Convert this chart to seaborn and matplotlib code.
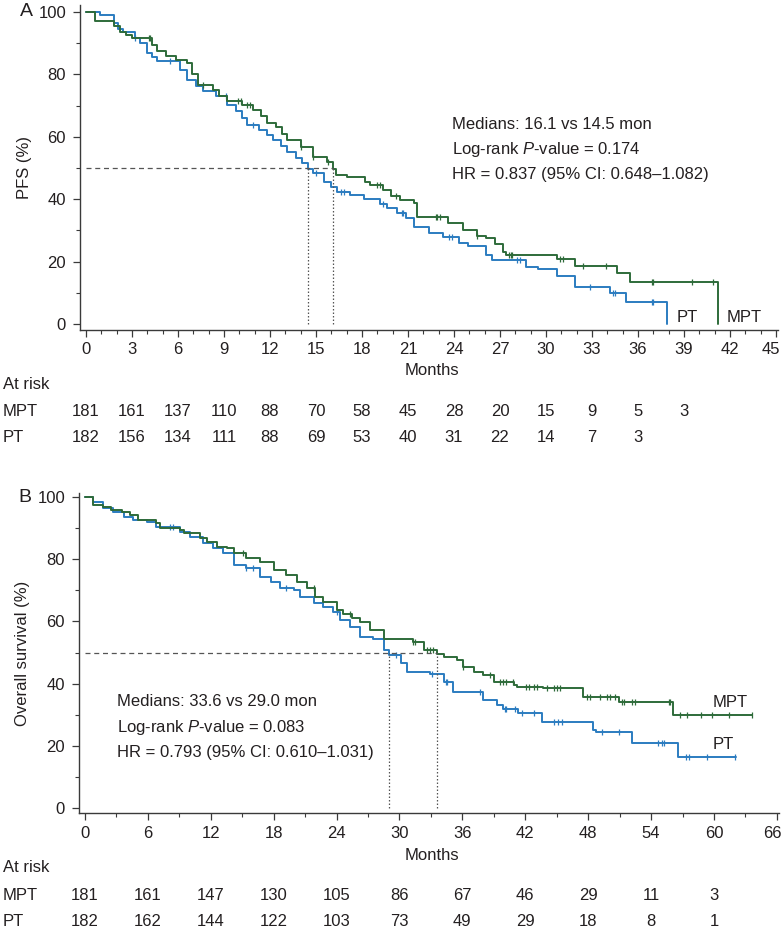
import matplotlib
matplotlib.use("Agg")
import matplotlib.pyplot as plt
import matplotlib.transforms as mtransforms
from matplotlib.ticker import MultipleLocator
import numpy as np
import pandas as pd
import seaborn as sns

sns.set_theme(style="ticks")
plt.rcParams['font.family'] = ['Liberation Sans', 'DejaVu Sans']
plt.rcParams['mathtext.fontset'] = 'custom'
plt.rcParams['mathtext.rm'] = 'Liberation Sans'
plt.rcParams['mathtext.it'] = 'Liberation Sans:italic'

GREEN = '#2e6b3a'
BLUE = '#2b7cc0'
INK = '#231f20'
AXIS = '#3a3a3a'
GUIDE = '#555555'

# -------------------------------------------------------------------
# Panel A: progression-free survival (step times in months, % surviving)
# -------------------------------------------------------------------
pfs_mpt_t = [0, 0.6, 1.8, 2.2, 2.6, 3.0, 4.3, 4.6, 5.2, 5.9, 6.6, 6.9, 7.3, 8.3, 8.7,
             9.2, 10.2, 10.9, 11.4, 11.8, 12.4, 12.8, 13.1, 14.0, 14.8, 15.7, 16.1,
             16.3, 17.0, 18.2, 18.5, 19.4, 19.9, 20.5, 21.4, 21.6, 23.6, 24.6, 25.5,
             26.1, 26.7, 27.2, 27.4, 30.7, 31.9, 34.6, 35.5, 41.2]
pfs_mpt_s = [100, 97.2, 95.5, 93.5, 92.5, 91.6, 89.5, 87.5, 86.0, 84.6, 83.5, 80.0, 76.6,
             75.0, 73.0, 71.3, 70.2, 68.6, 66.5, 64.3, 63.2, 61.0, 59.0, 56.8, 53.6, 52.0,
             49.5, 47.8, 47.0, 45.6, 44.5, 42.9, 41.0, 39.7, 38.7, 34.2, 32.5, 30.1, 28.3,
             27.4, 25.6, 23.2, 22.1, 20.9, 18.7, 16.2, 13.6, 0]
pfs_pt_t = [0, 0.9, 1.8, 2.1, 2.4, 3.2, 3.5, 4.0, 4.3, 4.6, 6.1, 6.6, 7.2, 7.6, 8.5, 9.2,
            9.8, 10.2, 10.5, 11.3, 11.8, 12.2, 12.7, 13.1, 13.7, 14.1, 14.5, 14.8, 15.5,
            16.0, 16.4, 17.2, 18.1, 19.2, 19.6, 20.3, 20.9, 21.4, 22.4, 23.3, 24.3, 24.9,
            26.1, 26.5, 28.7, 29.5, 30.7, 31.9, 34.2, 35.2, 37.9]
pfs_pt_s = [100, 99.0, 96.5, 94.5, 93.7, 91.6, 90.0, 86.8, 85.5, 84.1, 81.4, 78.2, 76.1,
            74.5, 72.9, 70.2, 68.1, 66.0, 63.8, 62.2, 60.5, 59.0, 57.0, 55.2, 53.1, 51.5,
            49.5, 48.3, 45.6, 44.0, 42.4, 41.3, 40.2, 38.4, 37.3, 35.5, 33.9, 31.2, 29.1,
            28.0, 25.8, 25.0, 22.1, 20.5, 18.4, 17.5, 15.4, 12.0, 9.8, 7.1, 0]
pfs_mpt_cens = [4.1, 4.2, 7.6, 9.9, 10.1, 10.5, 10.7, 14.0, 14.8, 15.8, 19.0, 19.2, 20.2,
                22.8, 22.9, 23.1, 25.5, 27.6, 27.7, 27.8, 30.9, 31.1, 32.4, 33.9, 36.9,
                37.0, 39.5, 40.9]
pfs_pt_cens = [3.2, 5.5, 9.1, 10.9, 15.0, 16.6, 16.8, 19.4, 20.6, 20.7, 23.7, 23.9, 28.1,
               28.3, 32.9, 34.4, 34.5, 36.9, 37.0]
pfs_medians = [16.1, 14.5]
pfs_ticks = list(range(0, 46, 3))
pfs_risk_mpt = [181, 161, 137, 110, 88, 70, 58, 45, 28, 20, 15, 9, 5, 3]
pfs_risk_pt = [182, 156, 134, 111, 88, 69, 53, 40, 31, 22, 14, 7, 3]
pfs_stats = ["Medians: 16.1 vs 14.5 mon",
             "Log-rank $\\it{P}$-value = 0.174",
             "HR = 0.837 (95% CI: 0.648\u20131.082)"]

# -------------------------------------------------------------------
# Panel B: overall survival
# -------------------------------------------------------------------
os_mpt_t = [0, 0.8, 1.7, 2.5, 3.5, 4.3, 5.1, 6.8, 7.2, 9.1, 9.4, 11.0, 11.6, 12.6, 13.5,
            14.2, 15.4, 16.7, 18.0, 19.2, 20.2, 21.2, 21.9, 22.7, 24.0, 24.6, 25.5, 26.2,
            27.2, 28.5, 31.3, 32.3, 33.6, 34.2, 35.5, 36.1, 37.1, 38.0, 39.0, 40.9, 41.2,
            43.7, 47.5, 50.9, 56.1, 63.6]
os_mpt_s = [100, 97.4, 96.9, 95.8, 95.3, 94.2, 92.6, 91.5, 89.9, 89.4, 88.3, 86.7, 85.6,
            84.0, 83.5, 81.9, 80.3, 79.2, 76.5, 74.9, 72.8, 70.6, 67.9, 66.3, 63.7, 62.4,
            61.2, 59.9, 57.2, 54.5, 53.5, 50.8, 49.6, 48.7, 47.6, 45.4, 43.8, 42.8, 40.6,
            39.5, 39.0, 38.5, 35.8, 34.2, 29.9, 29.9]
os_pt_t = [0, 0.8, 1.7, 2.7, 3.7, 4.6, 5.9, 6.8, 9.1, 10.0, 11.3, 12.2, 13.2, 14.2, 15.4,
           16.7, 17.7, 18.6, 19.9, 20.5, 21.8, 22.7, 23.7, 24.3, 25.3, 26.2, 27.5, 28.5,
           29.0, 30.1, 30.7, 32.9, 34.2, 35.1, 38.0, 39.3, 39.9, 41.3, 43.6, 48.5, 48.7,
           52.2, 56.6, 62.1]
os_pt_s = [100, 98.5, 96.4, 95.3, 93.7, 92.6, 92.0, 90.5, 88.8, 87.2, 85.1, 83.5, 81.9,
           78.1, 77.1, 74.4, 72.8, 70.6, 70.1, 67.9, 65.8, 64.7, 63.1, 60.5, 58.3, 55.1,
           54.5, 50.8, 49.2, 46.5, 43.8, 43.1, 40.6, 37.4, 34.7, 33.1, 32.0, 30.4, 27.7,
           25.1, 24.5, 20.8, 16.5, 16.5]
os_mpt_cens = [15.1, 21.8, 25.3, 31.3, 31.5, 32.6, 32.9, 33.2, 36.1, 38.6, 39.6, 39.9,
               40.2, 40.8, 42.1, 42.4, 42.8, 43.1, 44.1, 44.7, 45.0, 45.3, 47.9, 48.2,
               49.1, 49.8, 50.1, 50.6, 51.2, 51.4, 52.2, 52.5, 55.7, 55.8, 56.8, 57.4,
               58.8, 59.8, 61.4, 63.6]
os_pt_cens = [8.1, 8.4, 15.4, 16.0, 19.2, 24.0, 29.7, 33.1, 34.4, 34.5, 37.7, 40.1, 40.2,
              41.0, 41.7, 42.8, 44.7, 45.1, 45.5, 49.3, 50.9, 54.7, 55.0, 55.2, 57.3,
              57.6, 59.3, 62.0]
os_medians = [33.6, 29.0]
os_ticks = list(range(0, 67, 6))
os_risk_mpt = [181, 161, 147, 130, 105, 86, 67, 46, 29, 11, 3]
os_risk_pt = [182, 162, 144, 122, 103, 73, 49, 29, 18, 8, 1]
os_stats = ["Medians: 33.6 vs 29.0 mon",
            "Log-rank $\\it{P}$-value = 0.083",
            "HR = 0.793 (95% CI: 0.610\u20131.031)"]

W, H = 783, 931
fig = plt.figure(figsize=(W / 100, H / 100), dpi=100)


def fy(py):
    return 1 - py / H


def level_at(times, surv, t):
    idx = np.searchsorted(times, t, side='right') - 1
    return np.asarray(surv)[idx]


def km_panel(rect, xlim, ylim, ticks, minor, curves, medians, ylabel,
             ylab_x, xlab_y, letter, letter_xy, stats, stats_xy, stats_dy,
             labels, risk, risk_rows):
    ax = fig.add_axes(rect)
    # curves + censor marks
    for t, s, cens, col in curves:
        df = pd.DataFrame({'Months': t, 'Survival': s})
        sns.lineplot(data=df, x='Months', y='Survival', drawstyle='steps-post',
                     estimator=None, sort=False, color=col, linewidth=1.4, ax=ax)
        cy = level_at(t, s, np.array(cens))
        ax.plot(cens, cy, linestyle='none', marker='|', ms=4.5, mew=0.9, color=col)
    # median guides
    ax.plot([0, max(medians)], [50, 50], color=GUIDE, lw=0.9, ls=(0, (4, 3)))
    for m in medians:
        ax.plot([m, m], [0, 50], color=GUIDE, lw=0.9, ls=(0, (1.2, 1.6)))

    ax.set_xlim(*xlim)
    ax.set_ylim(*ylim)
    ax.set_xticks(ticks)
    ax.xaxis.set_minor_locator(MultipleLocator(minor))
    ax.set_yticks(range(0, 101, 20))
    ax.yaxis.set_minor_locator(MultipleLocator(10))
    ax.tick_params(axis='both', which='major', length=5, width=0.9, colors=AXIS,
                   labelcolor=INK, labelsize=12, pad=4)
    ax.tick_params(axis='both', which='minor', length=3, width=0.8, colors=AXIS)
    ax.tick_params(axis='y', pad=5)
    sns.despine(ax=ax)
    for sp in ('left', 'bottom'):
        ax.spines[sp].set_color(AXIS)
        ax.spines[sp].set_linewidth(1.0)
    ax.set_ylabel(ylabel, fontsize=12, color=INK, va='center')
    ax.yaxis.set_label_coords(ylab_x, 0.5)
    ax.set_xlabel('Months', fontsize=12, color=INK, va='center')
    ax.xaxis.set_label_coords(0.504, xlab_y)
    # keep the last month label inside the figure edge
    last = ax.get_xticklabels()[-1]
    last.set_transform(last.get_transform() +
                       mtransforms.ScaledTranslation(-0.05, 0, fig.dpi_scale_trans))

    fig.text(letter_xy[0] / W, fy(letter_xy[1]), letter, fontsize=14, color=INK,
             ha='center', va='center')
    for i, line in enumerate(stats):
        ax.text(stats_xy[0], stats_xy[1] - i * stats_dy, line, fontsize=12,
                color=INK, ha='left', va='center')
    for txt, x, y in labels:
        ax.text(x, y, txt, fontsize=12, color=INK, ha='left', va='center')

    # numbers at risk
    trans = mtransforms.blended_transform_factory(ax.transData, fig.transFigure)
    fig.text(3 / W, fy(risk_rows[0]), 'At risk', fontsize=12, color=INK,
             ha='left', va='center')
    for (name, counts), py in zip(risk, risk_rows[1:]):
        fig.text(3 / W, fy(py), name, fontsize=12, color=INK, ha='left', va='center')
        for x, n in zip(ticks, counts):
            ax.text(x, fy(py), str(n), transform=trans, fontsize=12, color=INK,
                    ha='center', va='center')
    return ax


km_panel(rect=[80 / W, fy(330), 698 / W, 325 / H],
         xlim=(-0.39, 45.13), ylim=(-1.92, 102.2), ticks=pfs_ticks, minor=1,
         curves=[(pfs_pt_t, pfs_pt_s, pfs_pt_cens, BLUE),
                 (pfs_mpt_t, pfs_mpt_s, pfs_mpt_cens, GREEN)],
         medians=pfs_medians, ylabel='PFS (%)', ylab_x=-0.079, xlab_y=-0.126,
         letter='A', letter_xy=(26, 12),
         stats=pfs_stats, stats_xy=(23.9, 63.8), stats_dy=8.0,
         labels=[('PT', 38.5, 2.2), ('MPT', 41.8, 2.2)],
         risk=[('MPT', pfs_risk_mpt), ('PT', pfs_risk_pt)],
         risk_rows=[384, 411, 437])

km_panel(rect=[79 / W, fy(813), 700 / W, 320 / H],
         xlim=(-0.57, 66.2), ylim=(-1.6, 101.3), ticks=os_ticks, minor=3,
         curves=[(os_pt_t, os_pt_s, os_pt_cens, BLUE),
                 (os_mpt_t, os_mpt_s, os_mpt_cens, GREEN)],
         medians=os_medians, ylabel='Overall survival (%)', ylab_x=-0.08,
         xlab_y=-0.134, letter='B', letter_xy=(25, 497),
         stats=os_stats, stats_xy=(3.05, 34.1), stats_dy=8.2,
         labels=[('MPT', 59.9, 33.8), ('PT', 59.9, 20.3)],
         risk=[('MPT', os_risk_mpt), ('PT', os_risk_pt)],
         risk_rows=[868, 895, 922])

fig.savefig('out.png', dpi=100)
